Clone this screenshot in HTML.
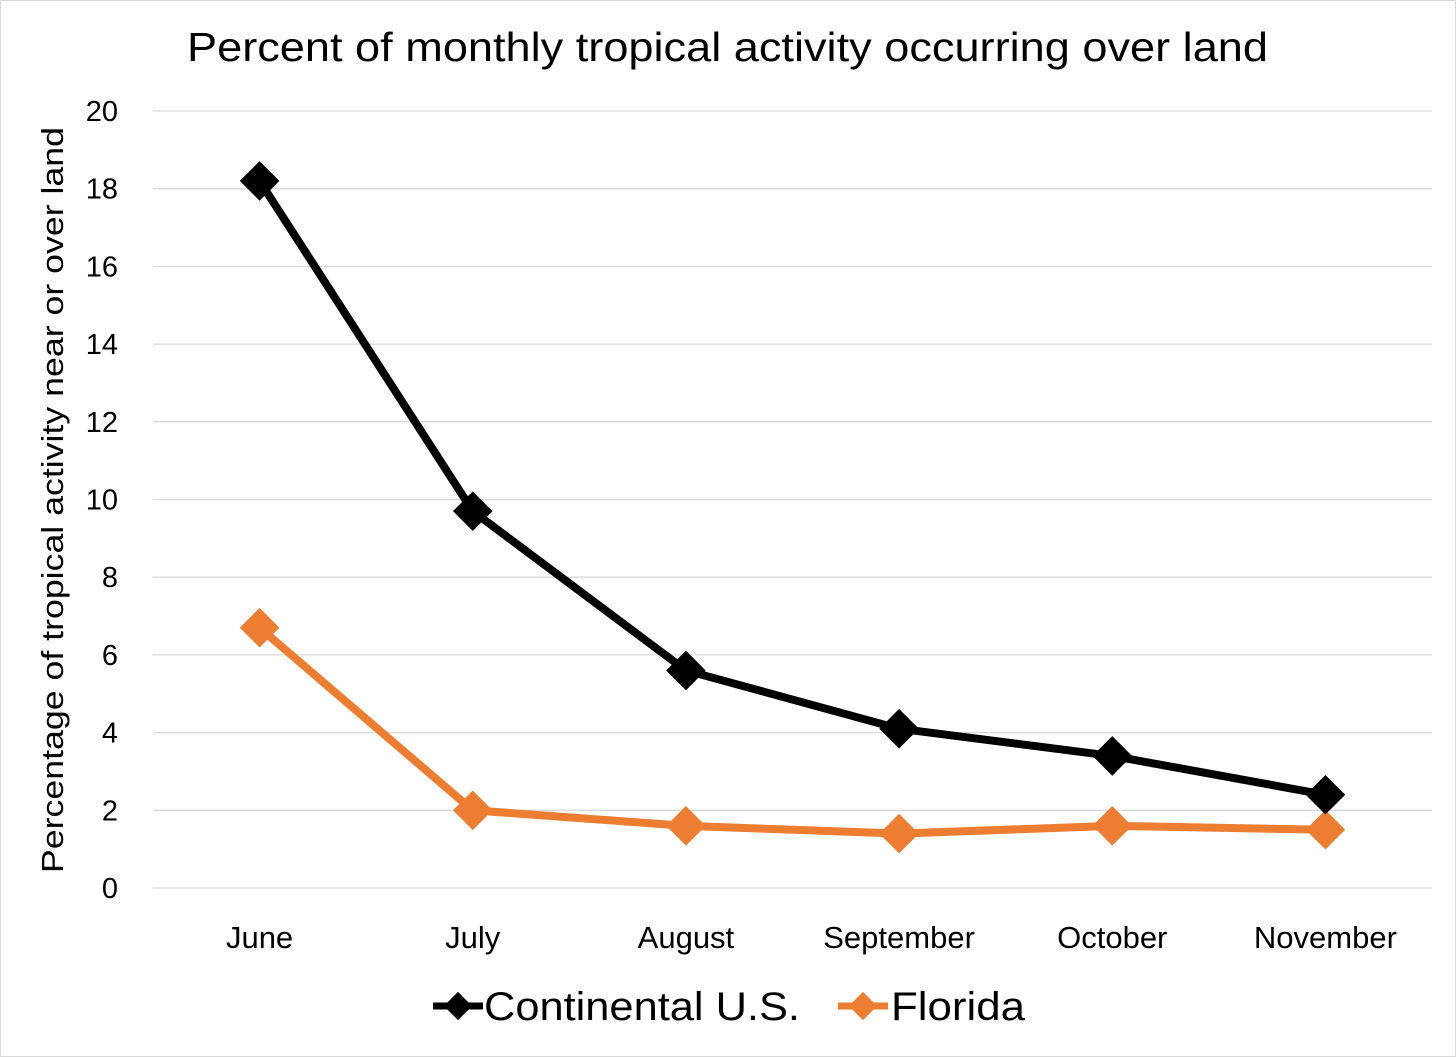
<!DOCTYPE html>
<html><head><meta charset="utf-8"><style>
html,body{margin:0;padding:0;background:#fff;}
svg{display:block;font-family:"Liberation Sans","DejaVu Sans",sans-serif;}
</style></head><body>
<svg id="chart" width="1456" height="1057" viewBox="0 0 1456 1057">
<rect x="0.5" y="0.5" width="1455" height="1056" fill="#fff" stroke="#d9d9d9"/>
<text x="187" y="61" font-size="41" fill="#000" textLength="1081" lengthAdjust="spacingAndGlyphs">Percent of monthly tropical activity occurring over land</text>
<text transform="translate(63,873) rotate(-90)" font-size="31" fill="#000" textLength="746" lengthAdjust="spacingAndGlyphs">Percentage of tropical activity near or over land</text>
<g id="grid"></g><g id="yticks"></g><g id="xticks"></g><g id="series"></g>
<g>
<g>
<line x1="433" y1="1006" x2="483" y2="1006" stroke="#000" stroke-width="7"/>
<rect x="448" y="996" width="20" height="20" fill="#000" transform="rotate(45 458 1006)"/>
<text x="484" y="1020" font-size="40" fill="#000" textLength="316" lengthAdjust="spacingAndGlyphs">Continental U.S.</text></g>
<g>
<line x1="838" y1="1006" x2="888" y2="1006" stroke="#ed7d31" stroke-width="7"/>
<rect x="853" y="996" width="20" height="20" fill="#ed7d31" transform="rotate(45 863 1006)"/>
<text x="891" y="1020" font-size="40" fill="#000" textLength="134" lengthAdjust="spacingAndGlyphs">Florida</text></g>
</g>
</svg>
<script>
const categories=["June","July","August","September","October","November"];
const continental=[18.2,9.7,5.6,4.1,3.4,2.4];
const florida=[6.7,2.0,1.6,1.4,1.6,1.5];
const yTicks=[0,2,4,6,8,10,12,14,16,18,20];
const NS="http://www.w3.org/2000/svg";
const plotLeft=153,plotRight=1432,plotTop=111,plotBottom=888,yMax=20;
const band=(plotRight-plotLeft)/categories.length;
function xs(i){return plotLeft+band*(i+0.5);}
function ys(v){return plotBottom-(v/yMax)*(plotBottom-plotTop);}
function mk(tag,attrs,parent){const e=document.createElementNS(NS,tag);for(const k in attrs)e.setAttribute(k,attrs[k]);parent.appendChild(e);return e;}
const grid=document.getElementById('grid'),yt=document.getElementById('yticks'),xt=document.getElementById('xticks'),ser=document.getElementById('series');
yTicks.forEach(v=>{
 const l=mk('line',{x1:plotLeft,x2:plotRight,y1:ys(v),y2:ys(v),stroke:'#d9d9d9','stroke-width':1.3},grid);
 
 
 const t=mk('text',{x:118,y:ys(v)+10,'text-anchor':'end','font-size':29,fill:'#000'},yt);
 t.textContent=v;
 
 
});
categories.forEach((c,i)=>{
 const t=mk('text',{x:xs(i),y:948,'text-anchor':'middle','font-size':31,fill:'#000'},xt);
 t.textContent=c;
 
 
});
function drawSeries(vals,color,name){
 const g=mk('g',{},ser);
 
 
 const p=mk('polyline',{points:vals.map((v,i)=>xs(i)+','+ys(v)).join(' '),fill:'none',stroke:color,'stroke-width':8,'stroke-linejoin':'round'},g);
 
 
 vals.forEach((v,i)=>{
  const r=mk('rect',{x:xs(i)-14,y:ys(v)-14,width:28,height:28,fill:color,transform:'rotate(45 '+xs(i)+' '+ys(v)+')'},g);
  
  
 });
}
drawSeries(florida,'#ed7d31','florida');
drawSeries(continental,'#000','continental');
</script>
</body></html>
